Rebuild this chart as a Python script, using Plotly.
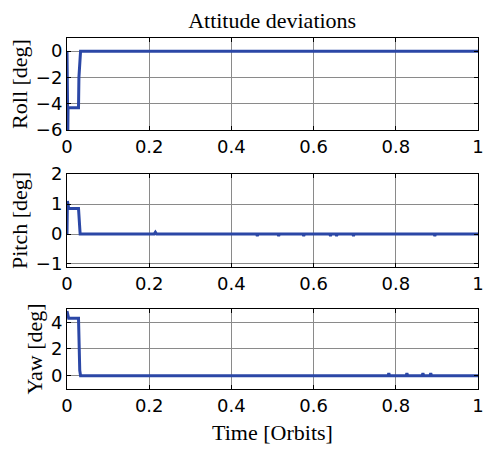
import plotly.graph_objects as go
from plotly.subplots import make_subplots

# ---- data ----
roll_t = [0.0, 0.0005, 0.002, 0.0025, 0.028, 0.029, 0.031, 0.033, 0.2, 0.4, 0.6, 0.8, 1.0]
roll_v = [0.0, -6.0, -6.0, -4.3, -4.3, -2.0, -0.7, 0.0, 0.0, 0.0, 0.0, 0.0, 0.0]

pitch_t = [0.0, 0.001, 0.003, 0.004, 0.028, 0.030, 0.032, 0.212, 0.215, 0.218,
           0.461, 0.463, 0.465, 0.513, 0.515, 0.517, 0.574, 0.576, 0.578,
           0.639, 0.641, 0.643, 0.654, 0.656, 0.658, 0.695, 0.697, 0.699,
           0.893, 0.895, 0.897, 1.0]
pitch_v = [0.0, 1.1, 0.95, 0.85, 0.85, 0.2, 0.0, 0.0, 0.06, 0.0,
           0.0, -0.06, 0.0, 0.0, -0.06, 0.0, 0.0, -0.06, 0.0,
           0.0, -0.06, 0.0, 0.0, -0.06, 0.0, 0.0, -0.06, 0.0,
           0.0, -0.06, 0.0, 0.0]

yaw_t = [0.0, 0.002, 0.004, 0.028, 0.029, 0.031, 0.033, 0.781, 0.783, 0.785,
         0.825, 0.827, 0.829, 0.864, 0.866, 0.868, 0.883, 0.885, 0.887, 1.0]
yaw_v = [4.85, 4.4, 4.3, 4.3, 2.0, 0.4, 0.0, 0.0, 0.18, 0.0,
         0.0, 0.18, 0.0, 0.0, 0.18, 0.0, 0.0, 0.18, 0.0, 0.0]

x_ticks = [0, 0.2, 0.4, 0.6, 0.8, 1]
x_tick_labels = ["0", "0.2", "0.4", "0.6", "0.8", "1"]
roll_ticks = [-6, -4, -2, 0]
pitch_ticks = [-1, 0, 1, 2]
yaw_ticks = [0, 2, 4]

title_text = "Attitude deviations"
x_title = "Time [Orbits]"
y_titles = ["Roll [deg]", "Pitch [deg]", "Yaw [deg]"]

line_color = "#2b47a6"
serif = "Liberation Serif, Times New Roman, serif"
sans = "DejaVu Sans, sans-serif"

fig = make_subplots(rows=3, cols=1)
series = [(roll_t, roll_v), (pitch_t, pitch_v), (yaw_t, yaw_v)]
for i, (t, v) in enumerate(series, start=1):
    fig.add_trace(go.Scatter(x=t, y=v, mode="lines",
                             line=dict(color=line_color, width=3),
                             showlegend=False), row=i, col=1)

domains = [[0.738, 1.0], [0.3476, 0.6125], [0.0, 0.228]]
ranges = [[-6, 1], [-1.1, 2], [-1, 5]]
yticks = [roll_ticks, pitch_ticks, yaw_ticks]

for i in range(3):
    xa = "xaxis" if i == 0 else f"xaxis{i+1}"
    ya = "yaxis" if i == 0 else f"yaxis{i+1}"
    fig.layout[xa].update(
        domain=[0, 1], range=[0, 1], tickvals=x_ticks, ticktext=x_tick_labels,
        ticks="inside", ticklen=4, tickcolor="black", mirror="ticks",
        showline=True, linecolor="black", linewidth=1,
        showgrid=True, gridcolor="#8a8a8a", gridwidth=1, zeroline=False,
        ticklabeloverflow="allow", automargin=False,
        tickfont=dict(family=sans, size=18, color="black"),
    )
    fig.layout[ya].update(
        domain=domains[i], range=ranges[i], tickvals=yticks[i],
        ticks="inside", ticklen=4, tickcolor="black", mirror="ticks",
        showline=True, linecolor="black", linewidth=1,
        showgrid=True, gridcolor="#8a8a8a", gridwidth=1, zeroline=False,
        ticklabeloverflow="allow", automargin=False,
        tickfont=dict(family=sans, size=18, color="black"),
        title=dict(text=y_titles[i], font=dict(family=serif, size=22, color="black"),
                   standoff=2),
    )

fig.layout.xaxis3.title = dict(text=x_title, font=dict(family=serif, size=22, color="black"),
                               standoff=10)

fig.update_layout(
    width=483, height=449,
    margin=dict(l=67, r=5, t=38, b=60),
    paper_bgcolor="white", plot_bgcolor="white",
    title=dict(text=title_text, x=0.5635, xanchor="center", y=0.955, yanchor="middle",
               font=dict(family=serif, size=22, color="black")),
)

fig.write_html("out.html")
